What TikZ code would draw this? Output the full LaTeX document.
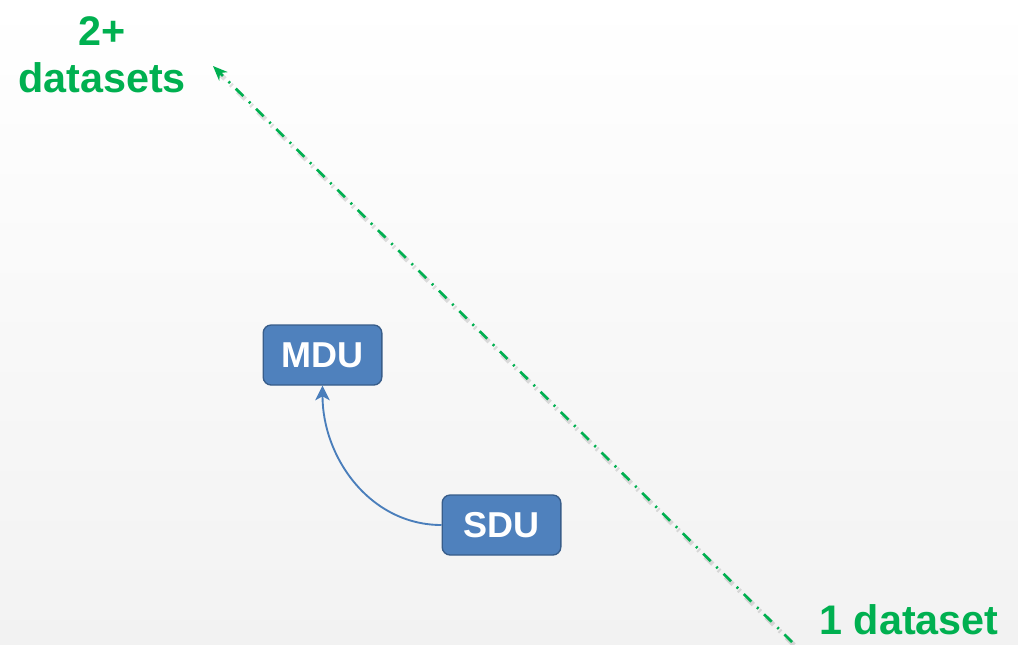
\documentclass[tikz,border=0pt]{standalone}
\usepackage{fontspec}
\setmainfont{Liberation Sans}
\usetikzlibrary{arrows.meta}

\definecolor{dsgreen}{RGB}{0,176,80}
\definecolor{boxblue}{RGB}{79,129,189}
\definecolor{boxline}{RGB}{56,93,138}
\definecolor{linkblue}{RGB}{74,126,187}

\tikzset{
  unit/.style={draw=boxline, line width=1pt, fill=boxblue, rounded corners=6pt,
    minimum width=89pt, minimum height=45pt, inner sep=0pt,
    text=white, font=\fontsize{27}{30}\selectfont\bfseries},
  axislabel/.style={text=dsgreen, align=center, inner sep=1pt,
    font=\fontsize{31}{35}\selectfont\bfseries},
  dashdot/.style={line width=2pt, dash pattern=on 8pt off 6pt on 1.5pt off 6pt}
}

\begin{document}
\begin{tikzpicture}[x=0.75pt,y=-0.75pt]
	\shade[top color=white, bottom color={rgb,255:red,242;green,242;blue,242}] (0,0) rectangle (1018,644);
	\useasboundingbox (0,0) rectangle (1018,644);

	% axis ends
	\node[axislabel] (many) at (102,55) {2+\\datasets};
	\node[axislabel, anchor=base] (one) at (909,634) {1 dataset};
	\coordinate (tip) at (213,66);
	\coordinate (tail) at (792,642);
	\draw[dashdot, black, opacity=0.12, line width=3.5pt] ([shift={(2,3)}]tail) -- ([shift={(2,3)}]tip);
	\draw[dashdot, dsgreen, -{Stealth[length=11pt, width=9pt]}] (tail) -- (tip);

	% units
	\node[unit] (mdu) at (322.5,355) {MDU};
	\node[unit] (sdu) at (501.5,525) {SDU};
	\draw[linkblue, line width=1.4pt, -{Stealth[length=11pt, width=11pt, inset=3pt]}] (sdu.west) to[out=180, in=-90] (mdu.south);
\end{tikzpicture}
\end{document}
